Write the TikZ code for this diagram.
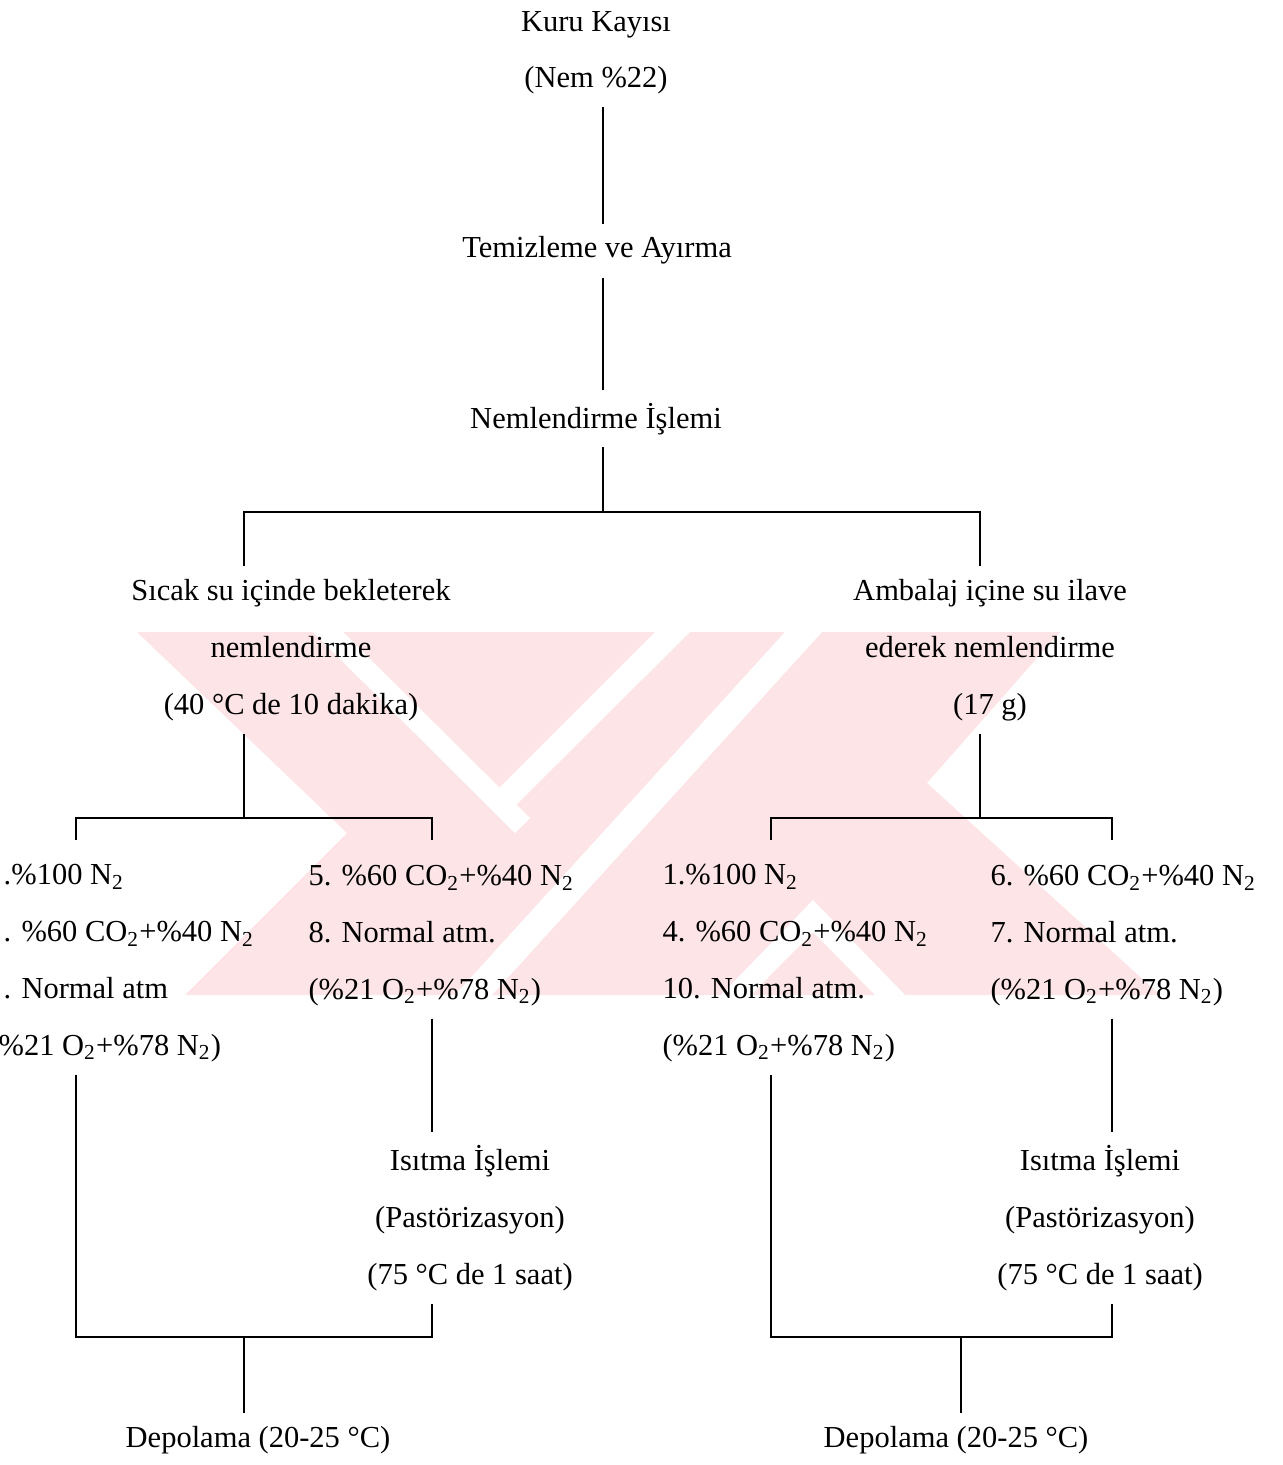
\documentclass[tikz,border=0pt]{standalone}
\usepackage{fontspec}
\setmainfont{Liberation Serif}
\usepackage{xcolor}
\usetikzlibrary{positioning}
\definecolor{yokPink}{RGB}{253,228,231}
\tikzset{
  flowtext/.style={
    inner sep=5pt,
    align=center,
    anchor=base,
    font=\fontsize{12.2pt}{22.7pt}\selectfont
  },
  gastext/.style={
    flowtext,
    align=left,
    anchor=base west
  },
  link/.style={
    line width=0.8pt,
    draw=black
  },
  watermark/.style={
    fill=yokPink
  }
}

\begin{document}
\begin{tikzpicture}[x=0.4pt,y=-0.4pt]
  \useasboundingbox (0,0) rectangle (1283,1465);
  \fill[watermark] (137,632) -- (1060,632) -- (927,783) -- (1160,995) -- (185,995) -- (347,833) -- cycle;
  \fill[white] (313,632) -- (343,632) -- (530,818) -- (515,833) -- cycle;
  \fill[white] (655,632) -- (690,632) -- (516,805) -- (499,788) -- cycle;
  \fill[white] (785,632) -- (822,632) -- (492,995) -- (455,995) -- cycle;
  \fill[white] (813,900) -- (905,995) -- (875,995) -- (813,932) -- (751,995) -- (721,995) -- cycle;

  \node[flowtext] (kuru) at (596,88) {Kuru Kayısı\\(Nem \%22)};
  \node[flowtext] (temiz) at (597,258) {Temizleme ve Ayırma};
  \node[flowtext] (neml) at (596,428) {Nemlendirme İşlemi};
  \node[flowtext] (sicak) at (291,714) {Sıcak su içinde bekleterek\\nemlendirme\\(40 °C de 10 dakika)};
  \node[flowtext] (ambalaj) at (990,714) {Ambalaj içine su ilave\\ederek nemlendirme\\(17 g)};
  \node[gastext] (gasA) at (-24.5,1055) {\phantom{3}.\%100 N\textsubscript{2}\\\phantom{2}. \%60 CO\textsubscript{2}+\%40 N\textsubscript{2}\\\phantom{9}. Normal atm\\\phantom{(}\%21 O\textsubscript{2}+\%78 N\textsubscript{2})};
  \node[gastext] (gasB) at (295.5,999) {5. \%60 CO\textsubscript{2}+\%40 N\textsubscript{2}\\8. Normal atm.\\(\%21 O\textsubscript{2}+\%78 N\textsubscript{2})};
  \node[gastext] (gasC) at (649.5,1055) {1.\%100 N\textsubscript{2}\\4. \%60 CO\textsubscript{2}+\%40 N\textsubscript{2}\\10. Normal atm.\\(\%21 O\textsubscript{2}+\%78 N\textsubscript{2})};
  \node[gastext] (gasD) at (977.5,999) {6. \%60 CO\textsubscript{2}+\%40 N\textsubscript{2}\\7. Normal atm.\\(\%21 O\textsubscript{2}+\%78 N\textsubscript{2})};
  \node[flowtext] (isitA) at (470,1284) {Isıtma İşlemi\\(Pastörizasyon)\\(75 °C de 1 saat)};
  \node[flowtext] (isitB) at (1100,1284) {Isıtma İşlemi\\(Pastörizasyon)\\(75 °C de 1 saat)};
  \node[flowtext] (depoA) at (258,1447) {Depolama (20-25 °C)};
  \node[flowtext] (depoB) at (956,1447) {Depolama (20-25 °C)};

  \coordinate (forkTop) at (603,512);
  \coordinate (forkL) at (244,818);
  \coordinate (forkR) at (980,818);
  \coordinate (tickLa) at (76,840);
  \coordinate (tickLb) at (432,840);
  \coordinate (tickRa) at (771,840);
  \coordinate (tickRb) at (1112,840);
  \coordinate (joinL) at (244,1337);
  \coordinate (joinR) at (961,1337);

  \draw[link] (kuru.south -| forkTop) -- (temiz.north -| forkTop);
  \draw[link] (temiz.south -| forkTop) -- (neml.north -| forkTop);
  \draw[link] (neml.south -| forkTop) -- (forkTop);
  \draw[link] (sicak.north -| forkL) |- (forkTop) -| (ambalaj.north -| forkR);
  \draw[link] (sicak.south -| forkL) -- (forkL);
  \draw[link] (tickLa) |- (forkL) -| (tickLb);
  \draw[link] (ambalaj.south -| forkR) -- (forkR);
  \draw[link] (tickRa) |- (forkR) -| (tickRb);
  \draw[link] (gasA.south -| tickLa) |- (joinL) -| (isitA.south -| tickLb);
  \draw[link] (gasB.south -| tickLb) -- (isitA.north -| tickLb);
  \draw[link] (joinL) -- (depoA.north -| joinL);
  \draw[link] (gasC.south -| tickRa) |- (joinR) -| (isitB.south -| tickRb);
  \draw[link] (gasD.south -| tickRb) -- (isitB.north -| tickRb);
  \draw[link] (joinR) -- (depoB.north -| joinR);
\end{tikzpicture}
\end{document}
